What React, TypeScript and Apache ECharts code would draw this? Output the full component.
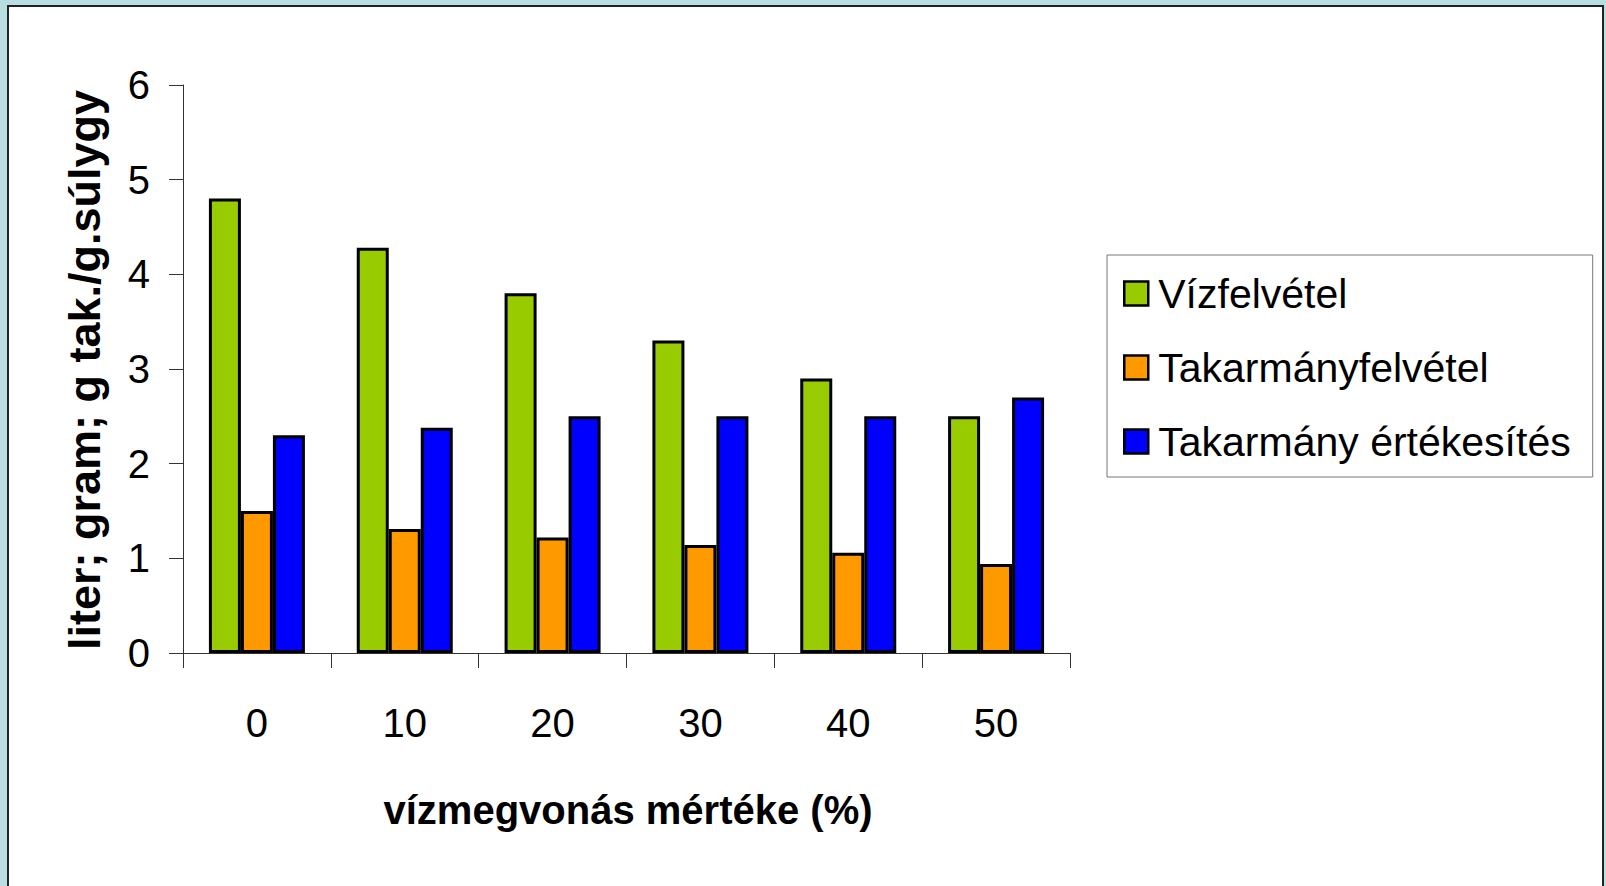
import React, { useEffect, useRef } from "react";
import * as echarts from "echarts";

const categories = ["0", "10", "20", "30", "40", "50"];
const seriesNames = ["Vízfelvétel", "Takarmányfelvétel", "Takarmány értékesítés"];
const vizfelvetel = [4.8, 4.28, 3.8, 3.3, 2.9, 2.5];
const takarmanyfelvetel = [1.5, 1.31, 1.22, 1.14, 1.06, 0.94];
const ertekesites = [2.3, 2.38, 2.5, 2.5, 2.5, 2.7];
const seriesColors = ["#99cc00", "#ff9900", "#0000ff"];
const yTitle = "liter; gram; g tak./g.súlygy";
const xTitle = "vízmegvonás mértéke (%)";

const FONT = "'Liberation Sans', Arial, sans-serif";

export default function App() {
  const ref = useRef<HTMLDivElement>(null);
  useEffect(() => {
    if (!ref.current) return;
    const chart = echarts.init(ref.current, null, { renderer: "svg" });
    const values = [vizfelvetel, takarmanyfelvetel, ertekesites];
    chart.setOption({
      animation: false,
      backgroundColor: "#b8dee2",
      textStyle: { fontFamily: FONT },
      graphic: [
        {
          type: "rect",
          z: -10,
          silent: true,
          shape: { x: 8, y: 6, width: 1595, height: 900 },
          style: { fill: "#ffffff", stroke: "#222222", lineWidth: 2 },
        },
        {
          type: "text",
          x: 84,
          y: 370,
          rotation: Math.PI / 2,
          style: {
            text: yTitle,
            align: "center",
            verticalAlign: "middle",
            font: `bold 45px ${FONT}`,
            fill: "#000",
          },
        },
        {
          type: "text",
          x: 628,
          y: 810,
          style: {
            text: xTitle,
            align: "center",
            verticalAlign: "middle",
            font: `bold 40px ${FONT}`,
            fill: "#000",
          },
        },
      ],
      legend: {
        orient: "vertical",
        left: 1107,
        top: 255,
        data: seriesNames,
        borderColor: "#777777",
        borderWidth: 1,
        padding: [18, 22, 15, 16],
        itemWidth: 24,
        itemHeight: 24,
        itemGap: 33,
        icon: "rect",
        itemStyle: { borderColor: "#000", borderWidth: 2.5 },
        textStyle: { fontSize: 41, color: "#000", fontFamily: FONT, padding: [0, 0, 0, 5] },
      },
      grid: { left: 183, right: 536, top: 85, bottom: 233 },
      xAxis: {
        type: "category",
        data: categories,
        axisLine: { lineStyle: { color: "#333", width: 1 } },
        axisTick: { show: true, length: 15, lineStyle: { color: "#333" } },
        axisLabel: { fontSize: 40, color: "#000", margin: 50, fontFamily: FONT },
      },
      yAxis: {
        type: "value",
        min: 0,
        max: 6,
        interval: 1,
        splitLine: { show: false },
        axisLine: { show: true, lineStyle: { color: "#333", width: 1 } },
        axisTick: { show: true, length: 14, lineStyle: { color: "#333" } },
        axisLabel: { fontSize: 40, color: "#000", margin: 33, fontFamily: FONT },
      },
      series: seriesNames.map((name, i) => ({
        name,
        type: "bar",
        data: values[i],
        barWidth: 32,
        barGap: "0%",
        itemStyle: { color: seriesColors[i], borderColor: "#000", borderWidth: 3 },
      })),
    });
    return () => chart.dispose();
  }, []);
  return (
    <div
      ref={ref}
      style={{ position: "fixed", left: 0, top: 0, width: 1606, height: 886 }}
    />
  );
}
